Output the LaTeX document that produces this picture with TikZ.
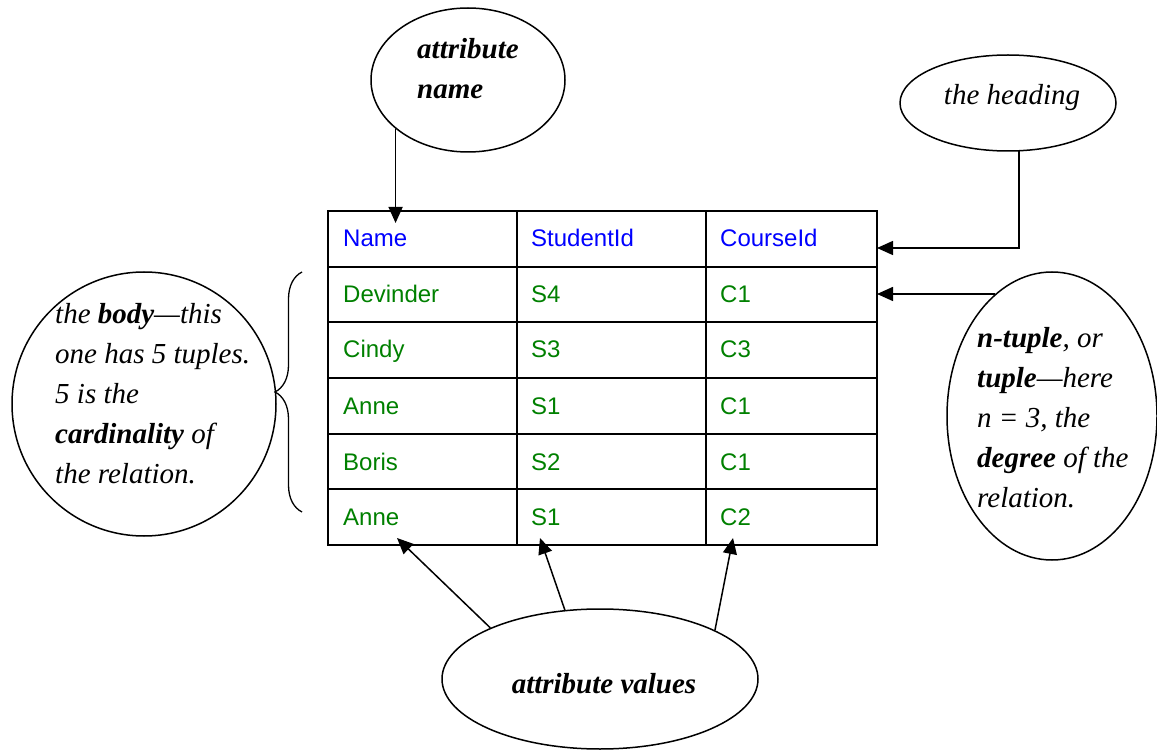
\documentclass[tikz,border=0pt]{standalone}
\usepackage{fontspec}
\setmainfont{Liberation Serif}
\newfontfamily\arialfont{Liberation Sans}
\usetikzlibrary{shapes.geometric,arrows.meta,decorations.pathreplacing}
\definecolor{headblue}{RGB}{0,0,255}
\definecolor{valgreen}{RGB}{0,128,0}

\begin{document}
\begin{tikzpicture}[x=1pt,y=-1pt,
  bubble/.style={ellipse, draw, line width=1.5pt, inner sep=0pt},
  note/.style={font=\fontsize{29}{40}\selectfont\itshape, inner sep=0pt, align=left},
  head/.style={font=\arialfont\fontsize{24}{28}\selectfont, text=headblue, anchor=base west, inner sep=0pt},
  cell/.style={font=\arialfont\fontsize{24}{28}\selectfont, text=valgreen, anchor=base west, inner sep=0pt},
  arr/.style={-{Triangle[length=16pt,width=14pt]}, line width=1.5pt}]
\useasboundingbox (0,0) rectangle (1157,751);

% callouts
\node[bubble, minimum width=194pt, minimum height=144pt] (aname) at (468,80) {};
\node[note, anchor=north west, font=\fontsize{29}{40}\selectfont\bfseries\itshape] (anameTxt) at (417,38) {attribute\\name};
\node[bubble, minimum width=216pt, minimum height=96pt] (heading) at (1008,103) {};
\node[note, anchor=base] (headingTxt) at (1012,105) {the heading};
\node[bubble, minimum width=264pt, minimum height=264pt] (body) at (144,404) {};
\node[note, anchor=north west] (bodyTxt) at (55,303) {the \textbf{body}---this\\one has 5 tuples.\\5 is the\\\textbf{cardinality} of\\the relation.};
\node[bubble, minimum width=210pt, minimum height=288pt] (ntuple) at (1052,416) {};
\node[note, anchor=north west] (ntupleTxt) at (977,327) {\textbf{n-tuple}, or\\\textbf{tuple}---here\\n = 3, the\\\textbf{degree} of the\\relation.};
\node[bubble, minimum width=316pt, minimum height=140pt] (avalues) at (600,679) {};
\node[note, anchor=base, font=\fontsize{29}{40}\selectfont\bfseries\itshape] (avaluesTxt) at (604,693) {attribute values};

% the relation
\draw[line width=2pt] (328,211) rectangle (877,545);
\draw[line width=2pt] (517,211) -- (517,545);
\draw[line width=2pt] (706,211) -- (706,545);
\draw[line width=2pt] (328,266.7) -- (877,266.7);
\draw[line width=2pt] (328,322.3) -- (877,322.3);
\draw[line width=2pt] (328,378) -- (877,378);
\draw[line width=2pt] (328,433.7) -- (877,433.7);
\draw[line width=2pt] (328,489.3) -- (877,489.3);

\node[head] (hName) at (343,247) {Name};
\node[head] (hSid) at (531,247) {StudentId};
\node[head] (hCid) at (720,247) {CourseId};
\node[cell] (n1) at (343,303) {Devinder};
\node[cell] (s1) at (531,303) {S4};
\node[cell] (c1) at (720,303) {C1};
\node[cell] (n2) at (343,358) {Cindy};
\node[cell] (s2) at (531,358) {S3};
\node[cell] (c2) at (720,358) {C3};
\node[cell] (n3) at (343,414) {Anne};
\node[cell] (s3) at (531,414) {S1};
\node[cell] (c3) at (720,414) {C1};
\node[cell] (n4) at (343,470) {Boris};
\node[cell] (s4) at (531,470) {S2};
\node[cell] (c4) at (720,470) {C1};
\node[cell] (n5) at (343,525) {Anne};
\node[cell] (s5) at (531,525) {S1};
\node[cell] (c5) at (720,525) {C2};

% arrow ends
\coordinate (nameTip) at (397,223);
\coordinate (headTip) at (877,248);
\coordinate (tupleTip) at (877,296);
\coordinate (valTipA) at (397,538);
\coordinate (valTipB) at (540,538);
\coordinate (valTipC) at (733,538);
\coordinate (braceTop) at (302,272);
\coordinate (braceBot) at (302,512);

\draw[arr] (aname.214.6) -- (aname.214.6 |- nameTip);
\draw[arr] (heading.-77) |- (headTip);
\draw[arr] (ntuple.115.8) -- (ntuple.115.8 -| tupleTip);
\draw[arr] (avalues.155.6) -- (valTipA);
\draw[arr] (avalues.117.2) -- (valTipB);
\draw[arr] (avalues.23.5) -- (valTipC);

\draw[line width=1.3pt, decorate, decoration={brace, amplitude=27pt}] (braceBot) -- (braceTop);
\end{tikzpicture}
\end{document}
